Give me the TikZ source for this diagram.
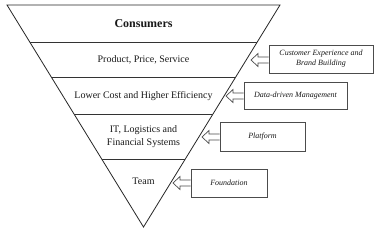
\documentclass[tikz,border=0pt]{standalone}
\usepackage{fontspec}
\setmainfont{Liberation Serif}
\usetikzlibrary{calc}
\tikzset{
  tri/.style={draw=black!85, line width=0.8pt},
  band/.style={draw=black!80, line width=0.7pt},
  lbl/.style={font=\fontsize{10}{12}\selectfont, align=center, text=black!90},
  sbox/.style={draw=black!70, line width=0.8pt, font=\fontsize{8}{10}\selectfont\itshape, align=center, inner sep=1pt, text=black!90},
  harrow/.style={draw=black!70, line width=0.7pt, fill=white}
}
\begin{document}
\begin{tikzpicture}[x=1pt,y=-1pt]
\useasboundingbox (0,0) rectangle (377,233);
\fill[white] (0,0) rectangle (377,233);
\coordinate (A) at (7,5);
\coordinate (B) at (280,5);
\coordinate (C) at (143.5,227);
\draw[tri] (A) -- (B) -- (C) -- cycle;
\foreach \t in {0.1667,0.3243,0.4910,0.6937}{
  \draw[band] ($(A)!\t!(C)$) -- ($(B)!\t!(C)$);
}
\node[lbl, font=\fontsize{12}{14}\selectfont\bfseries] (consumers) at (143.5,24) {Consumers};
\node[lbl] (product) at (143.5,60) {Product, Price, Service};
\node[lbl] (cost) at (143.5,96) {Lower Cost and Higher Efficiency};
\node[lbl, font=\fontsize{10}{13}\selectfont] (it) at (143.5,136.5) {IT, Logistics and\\Financial Systems};
\node[lbl] (team) at (143.5,181) {Team};

\node[sbox, minimum width=104pt, minimum height=28pt] (b1) at (321,59) {Customer Experience and\\Brand Building};
\node[sbox, minimum width=103pt, minimum height=27pt] (b2) at (295.5,95.5) {Data-driven Management};
\node[sbox, minimum width=85pt, minimum height=29pt] (b3) at (262.5,136.5) {Platform};
\node[sbox, minimum width=76pt, minimum height=28pt] (b4) at (229,183) {Foundation};

\coordinate (t1) at (251,60);
\coordinate (t2) at (226,96);
\coordinate (t3) at (202,137);
\coordinate (t4) at (173,183);

\foreach \b/\t in {b1/t1,b2/t2,b3/t3,b4/t4}{
  \draw[harrow] let \p1=(\b.west), \p2=(\t) in
    (\x1,\y2-3) -- (\x2+7,\y2-3) -- (\x2+7,\y2-6.5) -- (\x2,\y2) -- (\x2+7,\y2+6.5) -- (\x2+7,\y2+3) -- (\x1,\y2+3);
}
\end{tikzpicture}
\end{document}
